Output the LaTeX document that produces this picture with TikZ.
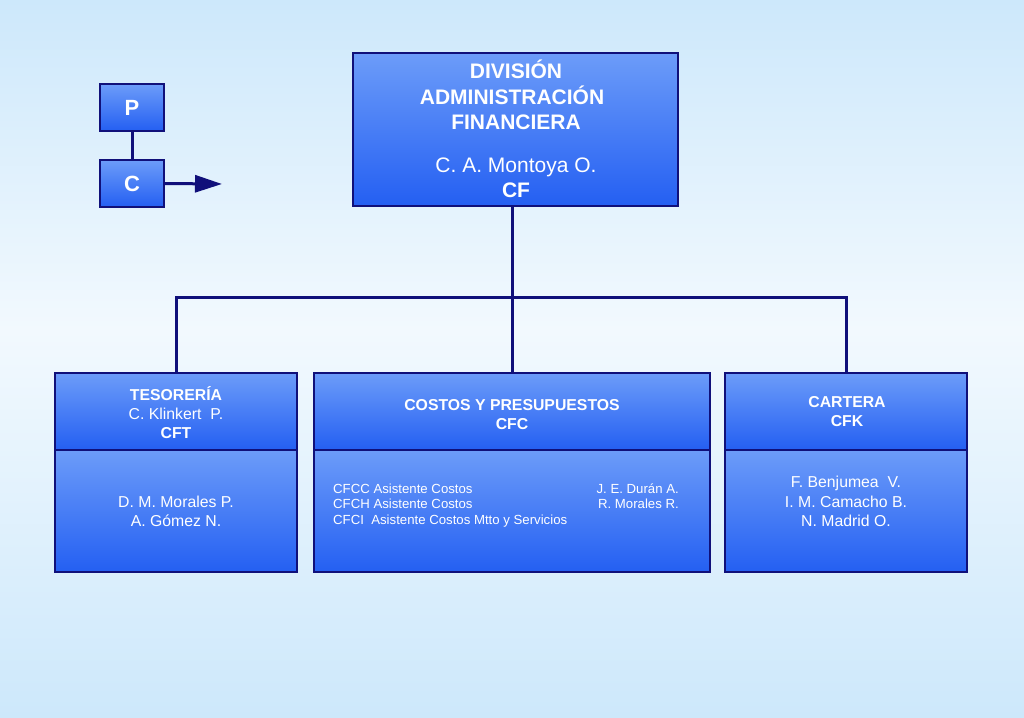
\documentclass[tikz,border=0pt]{standalone}
\usepackage{fontspec}
\setmainfont{Liberation Sans}
\usetikzlibrary{arrows.meta}
\definecolor{navy}{HTML}{10107A}
\definecolor{boxtop}{HTML}{6C9CF9}
\definecolor{boxbot}{HTML}{245FF2}
\definecolor{bgedge}{HTML}{CDE8FB}
\definecolor{bgmid}{HTML}{F2F9FE}
\tikzset{
  box/.style={draw=navy, line width=1.4pt, top color=boxtop, bottom color=boxbot, anchor=north west, inner sep=0pt, outer sep=0pt},
  conn/.style={draw=navy, line width=3pt},
  big/.style={text=white, font=\fontsize{21}{25}\selectfont\bfseries, inner sep=0pt, anchor=base},
  bigr/.style={text=white, font=\fontsize{21}{25}\selectfont, inner sep=0pt, anchor=base},
  mid/.style={text=white, font=\fontsize{15.8}{19}\selectfont\bfseries, inner sep=0pt, anchor=base},
  midr/.style={text=white, font=\fontsize{15.8}{19}\selectfont, inner sep=0pt, anchor=base},
  small/.style={text=white, font=\fontsize{13.2}{16}\selectfont, inner sep=0pt},
  leg/.style={text=white, font=\fontsize{22}{26}\selectfont\bfseries, inner sep=0pt}
}
\begin{document}
\begin{tikzpicture}[x=1pt,y=-1pt]
\useasboundingbox (0,0) rectangle (1024,717);
\shade[top color=bgedge, bottom color=bgmid] (0,0) rectangle (1024,330);
\shade[top color=bgmid, bottom color=bgedge] (0,330) rectangle (1024,717);

% legend
\node[box, minimum width=64pt, minimum height=47pt] (P) at (100,84) {};
\node[box, minimum width=64pt, minimum height=47pt] (C) at (100,160) {};
\node[leg] (Pt) at (P.center) {P};
\node[leg] (Ct) at (C.center) {C};
\coordinate (arrowend) at (222,184);
\draw[conn] (P.south) -- (C.north);
\draw[conn, -{Triangle[length=27pt,width=17pt]}] (C.east) -- (arrowend);

% top box
\node[box, minimum width=325pt, minimum height=153pt] (top) at (353,53) {};
\node[big] (t1) at (516,78.5) {DIVISIÓN};
\node[big] (t2) at (512,104.5) {ADMINISTRACIÓN};
\node[big] (t3) at (516,129.5) {FINANCIERA};
\node[bigr] (t4) at (516,172.5) {C. A. Montoya O.};
\node[big] (t5) at (516,197.5) {CF};

% lower boxes
\node[box, minimum width=242pt, minimum height=77pt] (tes) at (55,373) {};
\node[box, minimum width=242pt, minimum height=122pt] (tesb) at (55,450) {};
\node[box, minimum width=396pt, minimum height=77pt] (cos) at (314,373) {};
\node[box, minimum width=396pt, minimum height=122pt] (cosb) at (314,450) {};
\node[box, minimum width=242pt, minimum height=77pt] (car) at (725,373) {};
\node[box, minimum width=242pt, minimum height=122pt] (carb) at (725,450) {};

% connectors
\draw[conn] (cos.north) -- (cos.north |- top.south);
\draw[conn] (tes.north) -- ++(0,-76) -| (car.north);

% texts
\node[mid] (tesA) at (176,400.7) {TESORERÍA};
\node[midr] (tesB) at (176,419.7) {C. Klinkert\ \ P.};
\node[mid] (tesC) at (176,438.7) {CFT};
\node[midr] (tesD) at (176,507.7) {D. M. Morales P.};
\node[midr] (tesE) at (176,526.7) {A. Gómez N.};

\node[mid] (cosA) at (512,410.7) {COSTOS Y PRESUPUESTOS};
\node[mid] (cosB) at (512,429.7) {CFC};
\node[small, anchor=base west] (c1) at (333,493) {CFCC Asistente Costos};
\node[small, anchor=base west] (c2) at (333,508.5) {CFCH Asistente Costos};
\node[small, anchor=base west] (c3) at (333,524) {CFCI\ \ Asistente Costos Mtto y Servicios};
\node[small, anchor=base east] (c4) at (679,493) {J. E. Durán A.};
\node[small, anchor=base east] (c5) at (679,508.5) {R. Morales R.};

\node[mid] (carA) at (847,407.7) {CARTERA};
\node[mid] (carB) at (847,426.7) {CFK};
\node[midr] (carD) at (846,487.7) {F. Benjumea\ \ V.};
\node[midr] (carE) at (846,507.7) {I. M. Camacho B.};
\node[midr] (carF) at (846,526.7) {N. Madrid O.};
\end{tikzpicture}
\end{document}
